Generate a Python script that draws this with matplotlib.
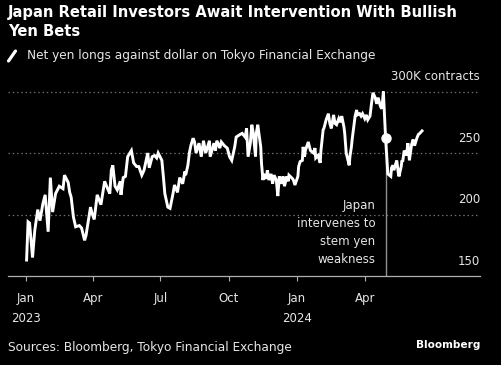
import numpy as np
import pandas as pd
import matplotlib
matplotlib.use("Agg")
import matplotlib.pyplot as plt
import matplotlib.dates as mdates

# Net yen longs (thousand contracts)
dates = [
    "2023-01-02", "2023-01-04", "2023-01-06", "2023-01-10", "2023-01-13", "2023-01-17",
    "2023-01-20", "2023-01-24", "2023-01-27", "2023-01-31", "2023-02-03", "2023-02-06",
    "2023-02-10", "2023-02-15", "2023-02-20", "2023-02-22", "2023-02-27", "2023-03-01",
    "2023-03-03", "2023-03-06", "2023-03-09", "2023-03-14", "2023-03-17", "2023-03-21",
    "2023-03-23", "2023-03-24", "2023-03-29", "2023-03-31", "2023-04-03", "2023-04-07",
    "2023-04-12", "2023-04-17", "2023-04-21", "2023-04-24", "2023-04-26", "2023-04-28",
    "2023-05-01", "2023-05-04", "2023-05-08", "2023-05-09", "2023-05-12", "2023-05-15",
    "2023-05-18", "2023-05-23", "2023-05-26", "2023-05-30", "2023-06-02", "2023-06-06",
    "2023-06-09", "2023-06-14", "2023-06-16", "2023-06-20", "2023-06-23", "2023-06-26",
    "2023-06-28", "2023-07-03", "2023-07-05", "2023-07-07", "2023-07-11", "2023-07-14",
    "2023-07-18", "2023-07-20", "2023-07-24", "2023-07-27", "2023-07-31", "2023-08-03",
    "2023-08-04", "2023-08-07", "2023-08-09", "2023-08-11", "2023-08-14", "2023-08-16",
    "2023-08-18", "2023-08-22", "2023-08-25", "2023-08-28", "2023-08-31", "2023-09-05",
    "2023-09-06", "2023-09-11", "2023-09-13", "2023-09-15", "2023-09-19", "2023-09-21",
    "2023-09-25", "2023-09-27", "2023-09-29", "2023-10-02", "2023-10-05", "2023-10-09",
    "2023-10-11", "2023-10-16", "2023-10-19", "2023-10-23", "2023-10-25", "2023-10-27",
    "2023-10-30", "2023-11-01", "2023-11-03", "2023-11-06", "2023-11-07", "2023-11-09",
    "2023-11-13", "2023-11-14", "2023-11-16", "2023-11-17", "2023-11-20", "2023-11-22",
    "2023-11-24", "2023-11-27", "2023-11-29", "2023-12-01", "2023-12-04", "2023-12-06",
    "2023-12-08", "2023-12-11", "2023-12-13", "2023-12-15", "2023-12-18", "2023-12-20",
    "2023-12-21", "2023-12-26", "2023-12-27", "2023-12-29", "2024-01-02", "2024-01-03",
    "2024-01-05", "2024-01-08", "2024-01-09", "2024-01-11", "2024-01-12", "2024-01-16",
    "2024-01-18", "2024-01-19", "2024-01-23", "2024-01-25", "2024-01-26", "2024-01-29",
    "2024-02-01", "2024-02-02", "2024-02-05", "2024-02-06", "2024-02-09", "2024-02-12",
    "2024-02-14", "2024-02-16", "2024-02-19", "2024-02-21", "2024-02-23", "2024-02-26",
    "2024-02-28", "2024-03-01", "2024-03-04", "2024-03-05", "2024-03-07", "2024-03-11",
    "2024-03-12", "2024-03-14", "2024-03-15", "2024-03-19", "2024-03-21", "2024-03-22",
    "2024-03-25", "2024-03-27", "2024-03-29", "2024-04-01", "2024-04-03", "2024-04-05",
    "2024-04-08", "2024-04-10", "2024-04-12", "2024-04-15", "2024-04-17", "2024-04-19",
    "2024-04-22", "2024-04-24", "2024-04-26", "2024-04-29", "2024-05-02", "2024-05-06",
    "2024-05-07", "2024-05-09", "2024-05-10", "2024-05-14", "2024-05-16", "2024-05-17",
    "2024-05-20", "2024-05-21", "2024-05-22", "2024-05-24", "2024-05-27", "2024-05-29",
    "2024-05-31", "2024-06-03", "2024-06-05", "2024-06-07", "2024-06-10", "2024-06-12",
    "2024-06-14", "2024-06-17",
]
longs = [
    163, 194, 193, 165, 187, 204,
    195, 209, 216, 186, 230, 202,
    217, 223, 221, 232, 226, 218,
    214, 198, 190, 191, 189, 179,
    183, 187, 206, 201, 196, 216,
    208, 227, 221, 217, 236, 240,
    223, 220, 227, 216, 230, 231,
    247, 252, 242, 239, 239, 232,
    236, 250, 238, 247, 248, 246,
    250, 244, 231, 217, 206, 205,
    217, 224, 218, 230, 225, 235,
    232, 240, 250, 256, 262, 259,
    250, 258, 247, 260, 250, 260,
    247, 258, 252, 260, 254, 259,
    256, 255, 254, 247, 244, 255,
    263, 265, 266, 263, 270, 247,
    258, 273, 266, 247, 266, 273,
    255, 242, 228, 233, 229, 236,
    228, 233, 225, 232, 228, 215,
    231, 225, 231, 223, 231, 227,
    232, 229, 228, 224, 231, 239,
    243, 244, 255, 247, 252, 259,
    254, 252, 250, 254, 246, 248,
    242, 252, 269, 270, 277, 282,
    274, 270, 281, 274, 273, 278,
    275, 280, 271, 266, 250, 240,
    247, 255, 261, 280, 285, 281,
    282, 280, 282, 278, 281, 277,
    280, 290, 299, 295, 290, 295,
    288, 286, 300, 262, 233, 231,
    238, 240, 236, 244, 234, 231,
    239, 244, 243, 252, 248, 258,
    244, 257, 261, 256, 262, 265,
    266, 268,
]

intervention_date = "2024-04-29"
intervention_label = "Japan\nintervenes to\nstem yen\nweakness"

y_ticks = [150, 200, 250, 300]
y_tick_labels = ["150", "200", "250", "300K contracts"]
x_ticks = ["2023-01-01", "2023-04-01", "2023-07-01", "2023-10-01", "2024-01-01", "2024-04-01"]
x_tick_labels = ["Jan\n2023", "Apr", "Jul", "Oct", "Jan\n2024", "Apr"]

title = "Japan Retail Investors Await Intervention With Bullish\nYen Bets"
subtitle = "Net yen longs against dollar on Tokyo Financial Exchange"
source = "Sources: Bloomberg, Tokyo Financial Exchange"

W, H = 502, 365
bg = "black"
text_col = "#e6e6e6"
grid_col = "#6e6e6e"

plt.rcParams['font.family'] = ['DejaVu Sans']

fig = plt.figure(figsize=(W / 100, H / 100), dpi=100, facecolor=bg)
# axes box in pixels: left 8, right 480, baseline 276 from top, top 70 from top
ax = fig.add_axes([8 / W, (H - 276) / H, 472 / W, 206 / H], facecolor=bg)

x = pd.to_datetime(dates)
ax.plot(x, longs, color="white", lw=2.1, solid_joinstyle="miter", zorder=3)

iv = pd.Timestamp(intervention_date)
iv_val = longs[dates.index(intervention_date)]
ax.plot([iv, iv], [150, iv_val], color="#8f8f8f", lw=1, zorder=2)
ax.plot([iv], [iv_val], "o", color="white", ms=6.5, zorder=4)
ax.annotate(intervention_label, xy=(iv, 150), xytext=(-7.5, 7), textcoords="offset points",
            ha="right", va="bottom", color=text_col, fontsize=8.5, linespacing=1.5)

ax.set_xlim(pd.Timestamp("2022-12-08"), pd.Timestamp("2024-09-03"))
ax.set_ylim(150, 317.5)

for v in y_ticks[1:]:
    ax.axhline(v, color=grid_col, lw=0.9, ls=(0, (1.2, 2.2)), zorder=1)
for v, lab in zip(y_ticks, y_tick_labels):
    ax.annotate(lab, xy=(1, v), xycoords=("axes fraction", "data"), xytext=(0, 10.5),
                textcoords="offset points", ha="right", va="center", color=text_col, fontsize=8.5)

ax.set_yticks([])
ax.set_xticks(pd.to_datetime(x_ticks))
ax.set_xticklabels(x_tick_labels, linespacing=1.72)
ax.tick_params(axis="x", colors="#b0b0b0", length=3.5, width=0.8, pad=8, labelsize=8.5,
               labelcolor=text_col)
for side in ["top", "left", "right"]:
    ax.spines[side].set_visible(False)
ax.spines["bottom"].set_color("#b0b0b0")
ax.spines["bottom"].set_linewidth(0.9)

fig.text(8 / W, 1 - 5.5 / H, title, ha="left", va="top", color="white", fontsize=10.6,
         fontweight="bold", linespacing=1.3)
fig.add_artist(plt.Line2D([8.5 / W, 15.5 / W], [1 - 61 / H, 1 - 51 / H], color="white",
                          lw=2.3, solid_capstyle="round"))
fig.text(27 / W, 1 - 55 / H, subtitle, ha="left", va="center", color=text_col, fontsize=8.7)
fig.text(8 / W, 1 - 347.5 / H, source, ha="left", va="center", color=text_col, fontsize=8.7)
fig.text(480 / W, 1 - 345 / H, "Bloomberg", ha="right", va="center", color="white",
         fontsize=7.6, fontweight="bold")

fig.savefig("out.png", dpi=100, facecolor=bg)
